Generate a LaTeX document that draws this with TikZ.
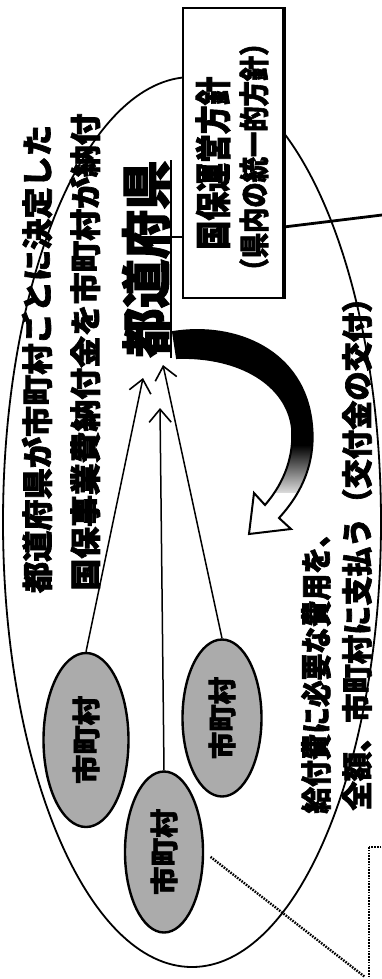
\documentclass[tikz,border=0pt]{standalone}
\usepackage{fontspec}
\usepackage{graphicx}
\usetikzlibrary{shapes.geometric,arrows.meta}
\newfontfamily\jp{Noto Sans CJK JP}[BoldFeatures={FakeBold=2.2}]
\newcommand{\jt}[3]{\resizebox{#1pt}{\height}{\fontsize{#2pt}{#2pt}\selectfont\jp\bfseries #3}}
\newcommand{\payarrow}{(173,332) .. controls (235,322) and (305,350) .. (312,425)
 .. controls (316,465) and (300,495) .. (279,518)
 -- (291,529) -- (249,534) -- (254,493) -- (265,505)
 .. controls (285,482) and (294,455) .. (292,428)
 .. controls (287,385) and (240,356) .. (177,358) -- cycle}
\tikzset{
 outline/.style={line width=1.8pt},
 village/.style={ellipse, draw, line width=2.4pt, fill=black!33, inner sep=0pt},
 txt/.style={rotate=90, inner sep=0pt},
 up/.style={line width=1.5pt, -{Straight Barb[length=13pt,width=22pt,line width=1.6pt]}},
 dots/.style={line width=2.4pt, dash pattern=on 1.6pt off 1.2pt},
}
\begin{document}
\begin{tikzpicture}[x=1pt,y=-1pt]
\useasboundingbox (0,0) rectangle (382,979);
\clip (0,0) rectangle (382,979);
\fill[white] (0,0) rectangle (382,979);
% big ellipse
\node[ellipse, draw, outline, minimum width=378pt, minimum height=890pt, inner sep=0pt] (big) at (192,522) {};
% box and connectors
\node[draw, fill=white, line width=1.6pt, minimum width=100pt, minimum height=290pt, inner sep=0pt] (box) at (233,153) {};
\draw[line width=4pt] (box.north east) -- (box.south east);
\coordinate (rout) at (382,215);
\draw[line width=2.8pt] ([yshift=-74pt]box.east) -- (rout);
\node[txt] (t4) at (213,163) {\jt{173}{36}{国保運営方針}};
\node[txt] (t5) at (254,157) {\jt{253}{30}{（県内の統一的方針）}};
% texts left
\node[txt] (t1) at (37,359) {\jt{468}{31}{都道府県が市町村ごとに決定した}};
\node[txt] (t2) at (85,352) {\jt{477}{31}{国保事業費納付金を市町村が納付}};
\node[txt] (t3) at (146,259) {\jt{197}{50}{都道府県}};
\draw[line width=2pt] (171,160) -- (171,358);
\coordinate (ul) at (171,237);
\draw[line width=1.5pt] (ul) -- (ul -| box.west);
% texts right
\node[txt] (t6) at (316,667) {\jt{293}{31}{給付費に必要な費用を、}};
\node[txt] (t7) at (357,547) {\jt{527}{31}{全額、市町村に支払う（交付金の交付）}};
% villages
\node[village, minimum width=85pt, minimum height=174pt] (e1) at (86,740) {\rotatebox{90}{\jt{88}{28}{市町村}}};
\node[village, minimum width=78pt, minimum height=161pt] (e2) at (164,852) {\rotatebox{90}{\jt{86}{28}{市町村}}};
\node[village, minimum width=79pt, minimum height=157pt] (e3) at (222,718) {\rotatebox{90}{\jt{82}{28}{市町村}}};
% arrows to prefecture
\coordinate (tip1) at (143,378);
\coordinate (tip2) at (160,408);
\coordinate (tip3) at (163,365);
\draw[up] (e1.north) -- (tip1);
\draw[up] (e2.north) -- (tip2);
\draw[up] (e3.north) -- (tip3);
% curved payment arrow
\fill[white] \payarrow;
\begin{scope}
\clip \payarrow;
\fill[black] (160,320) rectangle (330,445);
\shade[top color=black, bottom color=white!85!black] (160,445) rectangle (330,492);
\end{scope}
\draw[line width=2pt, line join=miter] \payarrow;
% dotted callout
\coordinate (dotend) at (365,977);
\draw[dots, shorten <=8pt] (e2.east) -- (dotend);
\draw[dots] (369,847) rectangle (400,1000);
\end{tikzpicture}
\end{document}
